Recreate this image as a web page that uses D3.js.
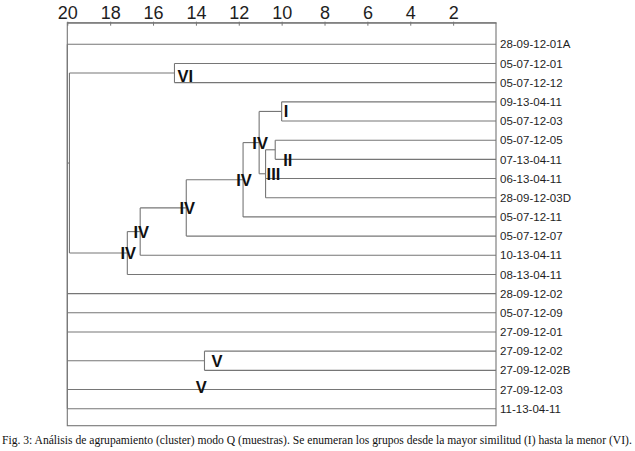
<!DOCTYPE html>
<html>
<head>
<meta charset="utf-8">
<script src="https://cdn.jsdelivr.net/npm/d3@7"></script>
<style>
  html, body { margin: 0; padding: 0; background: #fff; }
  svg { display: block; }
</style>
</head>
<body>
<svg id="chart"></svg>
<script>
const WIDTH = 635;
const HEIGHT = 451;
const X_LEFT = 67.3;
const X_RIGHT = 496;
const Y_AXIS = 22.7;
const Y_FIRST = 44.3;
const Y_LAST = 408.7;
const Y_BOTTOM = 425.7;
const LINE_COLOR = "#767676";
const TEXT_COLOR = "#1e1e1e";

// leaves, top to bottom
const leafNames = [
  "28-09-12-01A", "05-07-12-01", "05-07-12-12", "09-13-04-11", "05-07-12-03",
  "05-07-12-05", "07-13-04-11", "06-13-04-11", "28-09-12-03D", "05-07-12-11",
  "05-07-12-07", "10-13-04-11", "08-13-04-11", "28-09-12-02", "05-07-12-09",
  "27-09-12-01", "27-09-12-02", "27-09-12-02B", "27-09-12-03", "11-13-04-11"
];

const scaleTicks = [20, 18, 16, 14, 12, 10, 8, 6, 4, 2];

// clusters: id, joining level, members, group label
const clusterIds = ["I", "II", "III", "IVa", "IVb", "IVc", "IVd", "IVe", "VI", "V", "R2", "root"];
const clusterHeights = [10.0, 10.3, 10.75, 11.05, 11.8, 14.45, 16.6, 17.2, 15.0, 13.6, 19.9, 20];
const clusterMembers = [
  ["09-13-04-11", "05-07-12-03"],
  ["05-07-12-05", "07-13-04-11"],
  ["II", "06-13-04-11", "28-09-12-03D"],
  ["I", "III"],
  ["IVa", "05-07-12-11"],
  ["IVb", "05-07-12-07"],
  ["IVc", "10-13-04-11"],
  ["IVd", "08-13-04-11"],
  ["05-07-12-01", "05-07-12-12"],
  ["27-09-12-02", "27-09-12-02B"],
  ["VI", "IVe"],
  ["28-09-12-01A", "R2", "28-09-12-02", "05-07-12-09", "27-09-12-01", "V", "27-09-12-03", "11-13-04-11"]
];
const clusterLabels = ["I", "II", "III", "IV", "IV", "IV", "IV", "IV", "VI", "V", "", ""];

// group label written on a single leaf line
const looseLabelText = ["V"];
const looseLabelLeaf = ["27-09-12-03"];
const looseLabelHeight = [13.75];

const caption = "Fig. 3: Análisis de agrupamiento (cluster) modo Q (muestras). Se enumeran los grupos desde la mayor similitud (I) hasta la menor (VI).";

// label nudges (px) for the hand placed group labels
const labelNudge = { II: [8, 10], V: [7, 0], VI: [3, 3], I: [2, 0], III: [1, 0] };

// build hierarchy
const clusterIndex = new Map(clusterIds.map((id, i) => [id, i]));
function buildNode(id) {
  if (clusterIndex.has(id)) {
    const i = clusterIndex.get(id);
    return {
      id: id,
      h: clusterHeights[i],
      label: clusterLabels[i],
      children: clusterMembers[i].map(buildNode)
    };
  }
  return { id: id, h: 0, label: "" };
}
const root = d3.hierarchy(buildNode("root"));

const xScale = d3.scaleLinear().domain([20, 0]).range([X_LEFT, X_RIGHT]);
const yScale = d3.scalePoint().domain(leafNames).range([Y_FIRST, Y_LAST]);

// y of each node: midpoint of first and last child
root.eachAfter(n => {
  if (!n.children) n.y = yScale(n.data.id);
  else n.y = (n.children[0].y + n.children[n.children.length - 1].y) / 2;
  n.x = xScale(n.data.h);
});

const svg = d3.select("#chart").attr("width", WIDTH).attr("height", HEIGHT);

// frame
svg.append("rect")
  .attr("x", X_LEFT).attr("y", Y_AXIS)
  .attr("width", X_RIGHT - X_LEFT).attr("height", Y_BOTTOM - Y_AXIS)
  .attr("fill", "none").attr("stroke", LINE_COLOR).attr("stroke-width", 1.1);

// scale axis on top
const gx = svg.append("g")
  .attr("transform", `translate(0,${Y_AXIS})`)
  .call(d3.axisTop(xScale).tickValues(scaleTicks).tickSizeInner(-3).tickSizeOuter(0).tickPadding(4));
gx.select(".domain").attr("stroke", LINE_COLOR);
gx.selectAll(".tick line").attr("stroke", LINE_COLOR).attr("y1", -1);
gx.selectAll(".tick text")
  .attr("font-family", "'Liberation Sans', Arial, sans-serif")
  .attr("font-size", 18)
  .attr("fill", TEXT_COLOR);

// dendrogram elbows
const links = svg.append("g")
  .attr("stroke", LINE_COLOR).attr("stroke-width", 1.1).attr("fill", "none");

root.descendants().filter(n => n.children).forEach(n => {
  const ys = n.children.map(c => c.y);
  links.append("line")
    .attr("x1", n.x).attr("x2", n.x)
    .attr("y1", d3.min(ys)).attr("y2", d3.max(ys));
  n.children.forEach(c => {
    links.append("line")
      .attr("x1", n.x).attr("x2", c.x)
      .attr("y1", c.y).attr("y2", c.y);
  });
});

// leaf names
svg.append("g")
  .selectAll("text")
  .data(root.leaves())
  .join("text")
  .attr("x", X_RIGHT + 4)
  .attr("y", d => d.y)
  .attr("dy", "0.36em")
  .attr("font-family", "'Liberation Sans', Arial, sans-serif")
  .attr("font-size", 11.5)
  .attr("fill", TEXT_COLOR)
  .text(d => d.data.id);

// group labels
const romanFont = "'Liberation Sans Narrow', 'Liberation Sans', Arial, sans-serif";
const groups = svg.append("g")
  .attr("font-family", romanFont)
  .attr("font-weight", "bold")
  .attr("font-size", 16.5)
  .attr("fill", "#111");

root.descendants().filter(n => n.data.label).forEach(n => {
  const centred = n.data.label === "IV";
  const nudge = labelNudge[n.data.id] || [1, 0];
  groups.append("text")
    .attr("x", n.x + nudge[0])
    .attr("y", n.y + nudge[1])
    .attr("dy", "0.36em")
    .attr("text-anchor", centred ? "middle" : "start")
    .text(n.data.label);
});

looseLabelText.forEach((t, i) => {
  groups.append("text")
    .attr("x", xScale(looseLabelHeight[i]))
    .attr("y", yScale(looseLabelLeaf[i]) - 2)
    .attr("dy", "0.36em")
    .attr("text-anchor", "middle")
    .text(t);
});

// caption
svg.append("text")
  .attr("x", 2)
  .attr("y", 444)
  .attr("font-family", "'Liberation Serif', 'Times New Roman', serif")
  .attr("font-size", 11.6)
  .attr("fill", "#111")
  .text(caption);
</script>
</body>
</html>
